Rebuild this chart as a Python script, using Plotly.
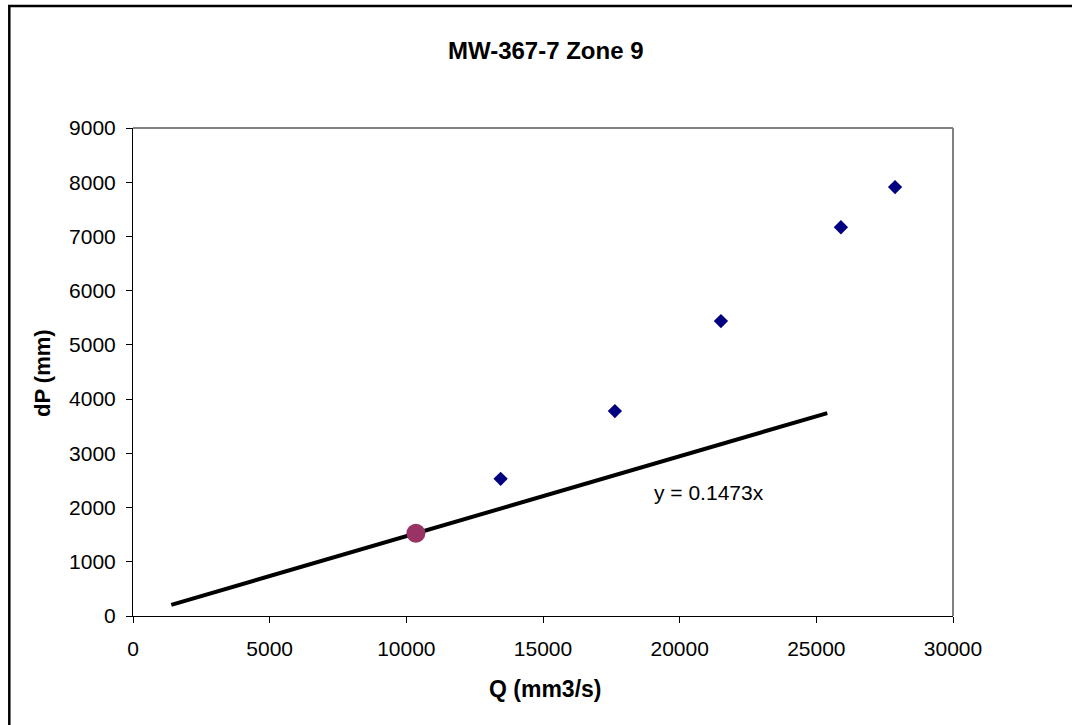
import plotly.graph_objects as go

# Measured pressure drop vs flow rate (MW-367-7, zone 9)
q_measured = [13450, 17630, 21510, 25900, 27880]
dp_measured = [2530, 3780, 5440, 7170, 7910]

# Reference point used for the linear fit through the origin
q_ref = [10350]
slope = 0.1473
dp_ref = [slope * q for q in q_ref]

# Extent of the fitted line
q_fit = [1400, 25400]
dp_fit = [slope * q for q in q_fit]

x_ticks = [0, 5000, 10000, 15000, 20000, 25000, 30000]
y_ticks = [0, 1000, 2000, 3000, 4000, 5000, 6000, 7000, 8000, 9000]

FONT = "Arial, 'Liberation Sans', sans-serif"

W, H = 1072, 725
ML, MR, MT, MB = 133, 119, 128, 109
PW, PH = W - ML - MR, H - MT - MB


def px_to_paper_x(px):
    return (px - ML) / PW


def px_to_paper_y(py):
    return (H - MB - py) / PH


fig = go.Figure()

fig.add_trace(go.Scatter(
    x=q_fit, y=dp_fit, mode="lines",
    line=dict(color="black", width=4),
    showlegend=False, hoverinfo="skip",
))
fig.add_trace(go.Scatter(
    x=q_measured, y=dp_measured, mode="markers",
    marker=dict(symbol="diamond", size=11, color="#000080"),
    showlegend=False,
))
fig.add_trace(go.Scatter(
    x=q_ref, y=dp_ref, mode="markers",
    marker=dict(symbol="circle", size=19, color="#993366"),
    showlegend=False,
))

axis_common = dict(
    showgrid=False, zeroline=False,
    showline=True, linecolor="black", linewidth=1,
    ticks="outside", ticklen=6, tickcolor="black", tickwidth=1,
    tickfont=dict(family=FONT, size=21, color="black"),
    fixedrange=True,
)

fig.update_xaxes(range=[0, 30000], tickvals=x_ticks,
                 ticktext=[str(v) for v in x_ticks],
                 ticklabelstandoff=8, **axis_common)
fig.update_yaxes(range=[0, 9000], tickvals=y_ticks,
                 ticktext=[str(v) for v in y_ticks],
                 ticklabelstandoff=6, **axis_common)

shapes = [
    # plot-area border (top and right)
    dict(type="line", xref="paper", yref="paper", x0=0, x1=1, y0=1, y1=1,
         line=dict(color="#808080", width=2)),
    dict(type="line", xref="paper", yref="paper", x0=1, x1=1, y0=0, y1=1,
         line=dict(color="#808080", width=2)),
    # outer chart frame (top and left)
    dict(type="line", xref="paper", yref="paper",
         x0=px_to_paper_x(8), x1=px_to_paper_x(1080),
         y0=px_to_paper_y(6), y1=px_to_paper_y(6),
         line=dict(color="black", width=2.5)),
    dict(type="line", xref="paper", yref="paper",
         x0=px_to_paper_x(9.3), x1=px_to_paper_x(9.3),
         y0=px_to_paper_y(5), y1=px_to_paper_y(740),
         line=dict(color="black", width=2.5)),
]

annotations = [
    dict(text="<b>MW-367-7 Zone 9</b>", xref="paper", yref="paper",
         x=px_to_paper_x(546), y=px_to_paper_y(50),
         xanchor="center", yanchor="middle", showarrow=False,
         font=dict(family=FONT, size=24, color="black")),
    dict(text="<b>Q (mm3/s)</b>", xref="paper", yref="paper",
         x=px_to_paper_x(545), y=px_to_paper_y(689),
         xanchor="center", yanchor="middle", showarrow=False,
         font=dict(family=FONT, size=23, color="black")),
    dict(text="<b>dP (mm)</b>", xref="paper", yref="paper",
         x=px_to_paper_x(42), y=px_to_paper_y(373), textangle=-90,
         xanchor="center", yanchor="middle", showarrow=False,
         font=dict(family=FONT, size=22, color="black")),
    dict(text=f"y = {slope}x", xref="x", yref="y",
         x=21080, y=2270, xanchor="center", yanchor="middle",
         showarrow=False,
         font=dict(family=FONT, size=21, color="black")),
]

fig.update_layout(
    width=W, height=H,
    margin=dict(l=ML, r=MR, t=MT, b=MB, pad=0),
    paper_bgcolor="white", plot_bgcolor="white",
    showlegend=False,
    shapes=shapes,
    annotations=annotations,
)

fig.write_html("out.html", config={"displayModeBar": False})
